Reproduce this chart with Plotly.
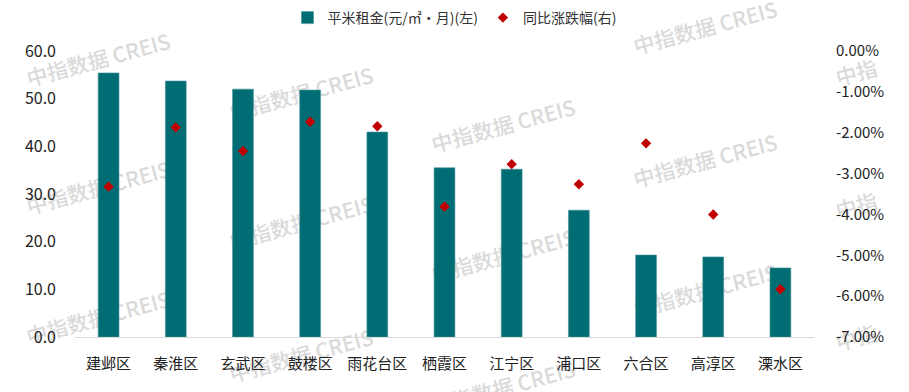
import base64
import plotly.graph_objects as go

districts = ["建邺区", "秦淮区", "玄武区", "鼓楼区", "雨花台区", "栖霞区", "江宁区", "浦口区", "六合区", "高淳区", "溧水区"]
rent = [55.4, 53.7, 52.0, 51.8, 43.0, 35.5, 35.2, 26.6, 17.2, 16.8, 14.5]
yoy = [-3.32, -1.87, -2.45, -1.73, -1.84, -3.81, -2.77, -3.26, -2.26, -4.00, -5.83]

left_ticks = [0, 10, 20, 30, 40, 50, 60]
right_ticks = [0, -1, -2, -3, -4, -5, -6, -7]

FONT = "Noto Sans CJK SC"
W_PX, H_PX = 909, 392
L, R, T, B = 75, 95, 51, 55
W, H = W_PX - L - R, H_PX - T - B

# --- background watermark (drawn below the bars) ---
wm_full = [(99, 62), (99, 190), (99, 320),
           (302, 96), (302, 225), (302, 358),
           (504, 128), (504, 258), (504, 390),
           (706, 30), (706, 163), (706, 293)]
wm_part = [(857, 75), (857, 208), (857, 340)]
parts = []
for (cx, cy) in wm_full:
    parts.append(f'<text x="{cx}" y="{cy}" transform="rotate(-15 {cx} {cy})" '
                 f'text-anchor="middle" dominant-baseline="middle">中指数据  CREIS</text>')
for (cx, cy) in wm_part:
    parts.append(f'<text x="{cx}" y="{cy}" transform="rotate(-15 {cx} {cy})" '
                 f'text-anchor="middle" dominant-baseline="middle">中指</text>')
svg = (f'<svg xmlns="http://www.w3.org/2000/svg" width="{W_PX}" height="{H_PX}">'
       f'<g font-family="{FONT}, sans-serif" font-size="21" font-weight="500" fill="#DADADA">'
       + "".join(parts) + '</g></svg>')
svg_uri = "data:image/svg+xml;base64," + base64.b64encode(svg.encode("utf-8")).decode("ascii")

fig = go.Figure()
fig.add_trace(go.Bar(x=districts, y=rent, name="平米租金(元/㎡·月)(左)",
                     marker=dict(color="#006D75", line=dict(width=0.6, color="#4A9499")),
                     width=0.31))
fig.add_trace(go.Scatter(x=districts, y=yoy, name="同比涨跌幅(右)", yaxis="y2",
                         mode="markers",
                         marker=dict(symbol="diamond", size=8, color="#C00000")))

fig.update_layout(
    width=W_PX, height=H_PX,
    margin=dict(l=L, r=R, t=T, b=B, autoexpand=False),
    paper_bgcolor="white", plot_bgcolor="rgba(0,0,0,0)",
    font=dict(family=FONT, size=14, color="#222222"),
    showlegend=True,
    legend=dict(orientation="h", x=0.5, xref="container", xanchor="center",
                y=1 - 18 / H_PX, yref="container", yanchor="middle",
                font=dict(size=14, color="#333333"), itemwidth=30,
                bgcolor="rgba(0,0,0,0)"),
    xaxis=dict(showline=True, linecolor="#D9D9D9", linewidth=1, ticks="",
               range=[-0.5, len(districts) - 0.5],
               tickfont=dict(size=15, color="#222222"), showgrid=False,
               automargin=False, ticklabelstandoff=13),
    yaxis=dict(range=[0, 60], tickvals=left_ticks, ticktext=[f"{v:.1f}" for v in left_ticks],
               showgrid=False, zeroline=False, showline=False, automargin=False,
               tickfont=dict(size=16, color="#222222"), ticklabelstandoff=18),
    yaxis2=dict(range=[-7, 0], overlaying="y", side="right", tickvals=right_ticks,
                ticktext=[f"{v:.2f}%" for v in right_ticks], showgrid=False, zeroline=False,
                showline=False, automargin=False, tickfont=dict(size=15, color="#222222"),
                ticklabelstandoff=21),
    images=[dict(source=svg_uri, xref="paper", yref="paper",
                 x=-L / W, y=1 + T / H, sizex=W_PX / W, sizey=H_PX / H,
                 xanchor="left", yanchor="top", sizing="stretch", layer="below")],
)
fig.write_html("out.html", config={"displayModeBar": False},
               post_script="document.body.style.margin='0';")
